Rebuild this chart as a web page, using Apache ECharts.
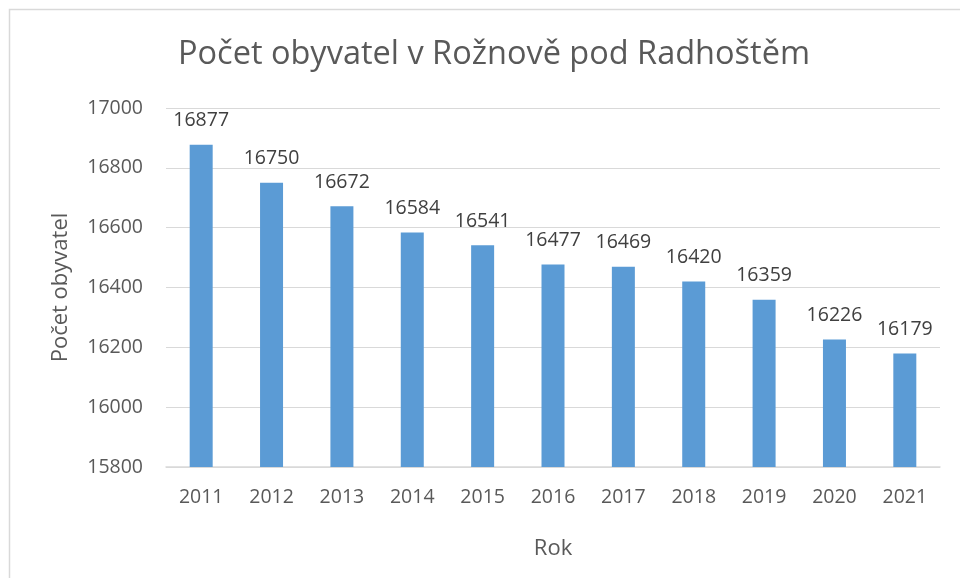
<!DOCTYPE html>
<html><head><meta charset="utf-8">
<script src="https://cdn.jsdelivr.net/npm/echarts@6/dist/echarts.min.js"></script>
<style>html,body{margin:0;padding:0;background:#fff}#c{width:960px;height:578px}</style>
</head><body><div id="c"></div>
<script>
const years = ['2011','2012','2013','2014','2015','2016','2017','2018','2019','2020','2021'];
const population = [16877,16750,16672,16584,16541,16477,16469,16420,16359,16226,16179];
const titleText = 'Počet obyvatel v Rožnově pod Radhoštěm';
const yName = 'Počet obyvatel';
const xName = 'Rok';
const font = '"Open Sans", "Liberation Sans", sans-serif';
const chart = echarts.init(document.getElementById('c'), null, {renderer:'canvas'});
chart.setOption({
  animation:false,
  graphic:[{type:'rect',shape:{x:9.5,y:9.5,width:1000,height:700},style:{fill:'none',stroke:'#D9D9D9',lineWidth:1.5},silent:true}],
  title:{text:titleText,left:489,top:33,textAlign:'center',textStyle:{fontFamily:font,fontSize:32.5,fontWeight:'normal',color:'#595959'}},
  grid:{left:166,right:20,top:108,bottom:111},
  xAxis:{type:'category',data:years,name:xName,nameLocation:'middle',nameGap:71,
    nameTextStyle:{fontFamily:font,fontSize:22,color:'#595959'},
    axisLine:{lineStyle:{color:'#D9D9D9',width:1.5}},axisTick:{show:false},
    axisLabel:{fontFamily:font,fontSize:19.5,color:'#595959',margin:20}},
  yAxis:{type:'value',min:15800,max:17000,interval:200,name:yName,nameLocation:'middle',nameGap:94,
    nameTextStyle:{fontFamily:font,fontSize:22,color:'#595959'},
    axisLine:{show:false},axisTick:{show:false},
    splitLine:{lineStyle:{color:'#D9D9D9',width:1}},
    axisLabel:{fontFamily:font,fontSize:19.5,color:'#595959',margin:23,formatter:v=>String(v)}},
  series:[{type:'bar',data:population,barWidth:23,itemStyle:{color:'#5B9BD5'},
    label:{show:true,position:'top',distance:14,fontFamily:font,fontSize:19.5,color:'#404040'}}]
});
</script></body></html>
